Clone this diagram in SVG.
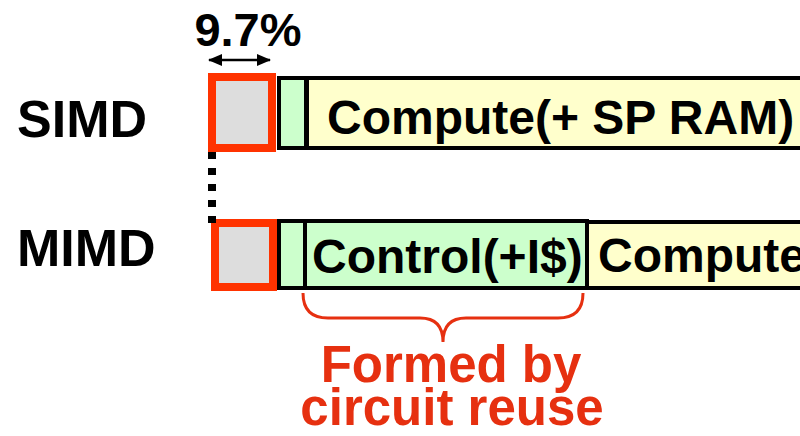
<svg xmlns="http://www.w3.org/2000/svg" width="800" height="436" viewBox="0 0 800 436">
<style>
text{font-family:"Liberation Sans",Arial,sans-serif;font-weight:bold;fill:#000}
.red{fill:#DDDDDD;stroke:#FF3300;stroke-width:8}
.grn{fill:#CCFFCC;stroke:#000;stroke-width:4}
.yel{fill:#FFFFCC;stroke:#000;stroke-width:4}
.lbl{font-size:52px}
.box{font-size:48px}
.note{font-size:51px;fill:#E63010;text-anchor:middle}
</style>
<defs>
<marker id="ah" markerWidth="14" markerHeight="12" refX="13" refY="6" orient="auto-start-reverse" markerUnits="userSpaceOnUse">
<path d="M0,0 L14,6 L0,12 Z" fill="#000"/>
</marker>
</defs>
<rect width="800" height="436" fill="#fff"/>
<g id="simd">
<text class="lbl" x="17" y="137">SIMD</text>
<rect class="yel" x="307" y="78" width="520" height="70"/>
<rect class="grn" x="279" y="78" width="27" height="70"/>
<rect class="red" x="212" y="77" width="60" height="71"/>
<text class="box" x="327" y="134">Compute(+ SP RAM)</text>
</g>
<g id="mimd">
<text class="lbl" x="17" y="266">MIMD</text>
<rect class="yel" x="587" y="222" width="240" height="66"/>
<rect class="grn" x="305" y="221" width="282" height="67"/>
<rect class="grn" x="279" y="221" width="26" height="67"/>
<rect class="red" x="215" y="223" width="58" height="64"/>
<text class="box" x="312" y="273">Control(+I$)</text>
<text class="box" x="598" y="272">Compute</text>
</g>
<g id="pct">
<text x="248" y="46" font-size="47" text-anchor="middle">9.7%</text>
</g>
<g id="connectors">
<line x1="209" y1="60" x2="270" y2="60" stroke="#000" stroke-width="2.5" marker-start="url(#ah)" marker-end="url(#ah)"/>
<line x1="212" y1="152" x2="212" y2="223" stroke="#000" stroke-width="8" stroke-dasharray="7 9"/>
<path d="M303,293 Q303,318 328,318 L420,318 Q443,318 443,342 Q443,318 466,318 L558,318 Q583,318 583,293" fill="none" stroke="#E63010" stroke-width="3"/>
</g>
<g id="note">
<text class="note" x="451" y="382">Formed by</text>
<text class="note" x="452" y="425">circuit reuse</text>
</g>
</svg>
